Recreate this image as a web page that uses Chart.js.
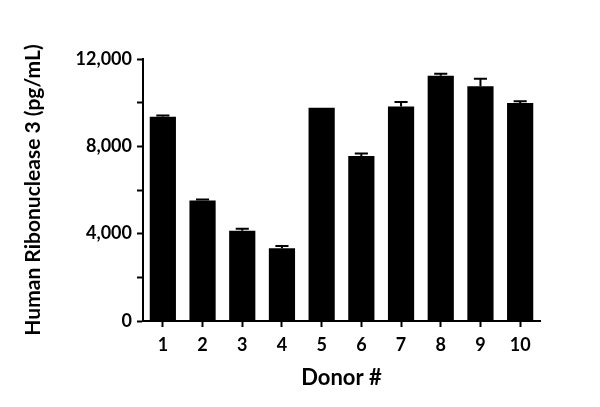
<!DOCTYPE html>
<html>
<head>
<meta charset="utf-8">
<script src="https://cdn.jsdelivr.net/npm/chart.js@4.4.1/dist/chart.umd.min.js"></script>
<style>
  html, body { margin: 0; padding: 0; background: #fff; }
  #wrap { width: 600px; height: 407px; }
</style>
</head>
<body>
<div id="wrap"><canvas id="chart" width="600" height="407"></canvas></div>
<script>
// data
const donors = ['1', '2', '3', '4', '5', '6', '7', '8', '9', '10'];
const ribonuclease = [9350, 5520, 4130, 3330, 9770, 7560, 9830, 11230, 10750, 9990];
const errUpper = [60, 50, 90, 100, 0, 110, 200, 90, 350, 70];
const yMajorLabels = [0, 4000, 8000, 12000];

const FONT = 'Lato, "Open Sans", sans-serif';

// upward-only error bars drawn through the y scale
const errorBars = {
  id: 'errorBars',
  afterDatasetsDraw(chart) {
    const meta = chart.getDatasetMeta(0);
    const y = chart.scales.y;
    const ctx = chart.ctx;
    ctx.save();
    ctx.strokeStyle = '#000';
    ctx.lineWidth = 2;
    meta.data.forEach((bar, i) => {
      if (!errUpper[i]) return;
      const top = y.getPixelForValue(ribonuclease[i]);
      const hi = y.getPixelForValue(ribonuclease[i] + errUpper[i]);
      const half = bar.width / 4;
      ctx.beginPath();
      ctx.moveTo(bar.x, top);
      ctx.lineTo(bar.x, hi);
      ctx.moveTo(bar.x - half, hi);
      ctx.lineTo(bar.x + half, hi);
      ctx.stroke();
    });
    ctx.restore();
  }
};

new Chart(document.getElementById('chart'), {
  type: 'bar',
  data: {
    labels: donors,
    datasets: [{
      data: ribonuclease,
      backgroundColor: '#000',
      borderWidth: 0,
      barPercentage: 0.66,
      categoryPercentage: 1
    }]
  },
  options: {
    responsive: false,
    animation: false,
    layout: { padding: { left: 0, right: 60, top: 59, bottom: 0 } },
    plugins: { legend: { display: false }, tooltip: { enabled: false } },
    scales: {
      x: {
        grid: { display: true, drawOnChartArea: false, offset: false, tickLength: 6, tickWidth: 2, color: '#000' },
        border: { display: true, color: '#000', width: 2 },
        ticks: { color: '#000', padding: 7, font: { family: FONT, size: 18, weight: 'bold' }, maxRotation: 0 },
        title: { display: true, text: 'Donor #', color: '#000', padding: { top: 0, bottom: 16 }, font: { family: FONT, size: 22, weight: 'bold' } },
        afterFit(scale) { scale.height = 407 - 321; }
      },
      y: {
        min: 0,
        max: 12000,
        grid: { display: true, drawOnChartArea: false, tickLength: 6, tickWidth: 2, color: '#000' },
        border: { display: true, color: '#000', width: 2 },
        ticks: {
          stepSize: 2000,
          color: '#000',
          padding: 5,
          font: { family: FONT, size: 18, weight: 'bold' },
          callback: v => yMajorLabels.includes(v) ? v.toLocaleString('en-US') : ''
        },
        title: { display: true, text: 'Human Ribonuclease 3 (pg/mL)', color: '#000', padding: { top: 21, bottom: 0 }, font: { family: FONT, size: 21, weight: 'bold' } },
        afterFit(scale) { scale.width = 143; }
      }
    }
  },
  plugins: [errorBars]
});
</script>
</body>
</html>
